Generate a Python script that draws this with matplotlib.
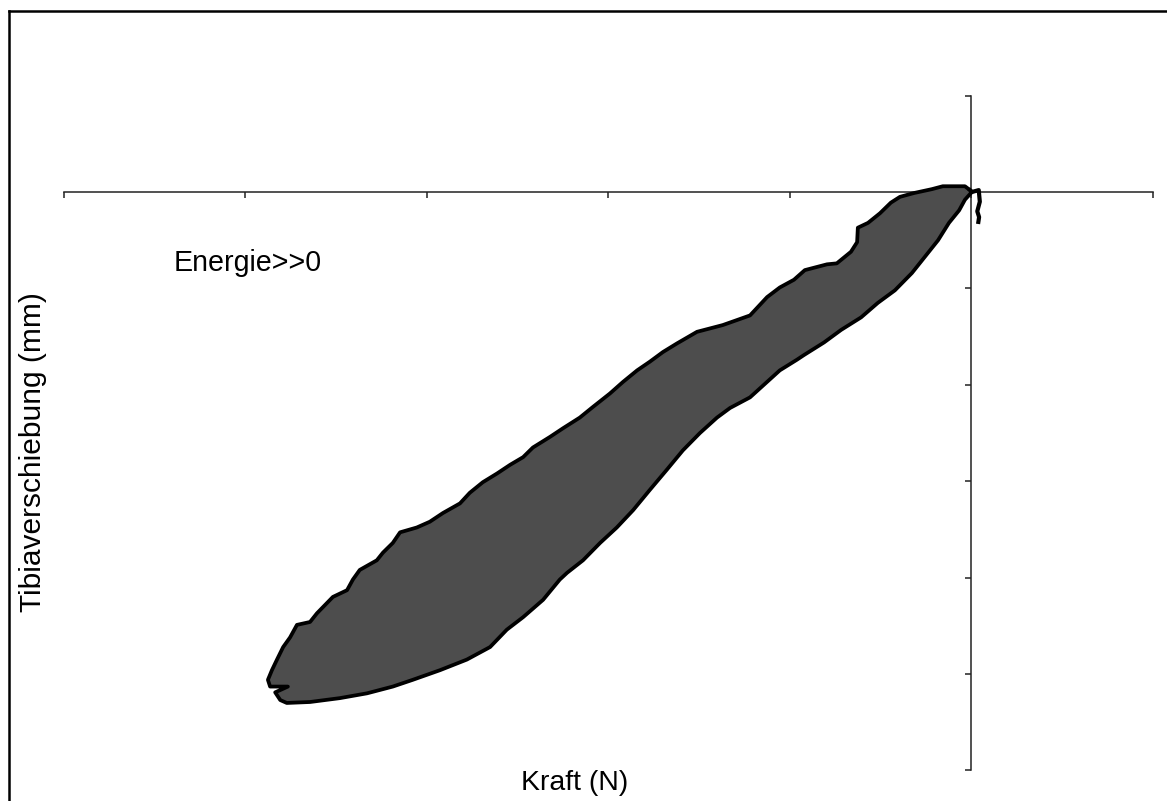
import matplotlib
matplotlib.use("Agg")
import matplotlib.pyplot as plt
from matplotlib.lines import Line2D

# hysteresis loop, Kraft (N) vs Tibiaverschiebung (mm)
# upper branch (right tip -> lower left), then lower branch back to the tip
kraft = [
    -0.4, -1.8, -7.9, -10.9, -15.8, -19.7, -22.2, -25.2, -28.5, -31.3, -31.5,
    -33.2, -37.1, -39.8, -45.9, -48.9, -52.8, -56.3, -61.0, -68.5, -75.6,
    -81.1, -85.0, -88.6, -92.1, -96.0, -99.6, -104.3, -107.9, -112.5, -116.1,
    -120.8, -123.5, -127.1, -130.7, -134.6, -138.2, -140.9, -145.6, -149.2,
    -152.8, -157.4, -159.4, -162.1, -163.8, -168.5, -170.4, -172.0, -175.9,
    -180.3, -182.2, -185.8, -187.7, -189.6, -191.3, -192.7, -193.8, -193.2,
    -188.3, -191.8, -190.4, -188.6,
    -182.2, -174.0, -166.5, -159.4, -153.9, -146.4, -139.0, -132.6, -128.0,
    -123.5, -118.0, -113.4, -111.4, -107.0, -102.3, -97.7, -93.2, -88.6,
    -83.9, -79.5, -74.8, -70.1, -66.5, -61.0, -56.9, -52.8, -48.1, -46.1,
    -40.6, -35.9, -30.4, -25.8, -21.1, -16.4, -12.8, -9.2, -6.2, -3.4, -1.8,
    0.1,
]
weg = [
    0.02, 0.06, 0.06, 0.03, -0.01, -0.05, -0.11, -0.22, -0.32, -0.37, -0.52,
    -0.62, -0.74, -0.75, -0.81, -0.91, -0.99, -1.09, -1.28, -1.38, -1.45,
    -1.57, -1.66, -1.76, -1.85, -1.97, -2.09, -2.23, -2.34, -2.45, -2.54,
    -2.65, -2.75, -2.83, -2.92, -3.01, -3.12, -3.23, -3.33, -3.42,
    -3.48, -3.53, -3.64, -3.74, -3.82, -3.92, -4.02, -4.13, -4.20,
    -4.37, -4.46, -4.49, -4.62, -4.72, -4.85, -4.96, -5.06, -5.13,
    -5.13, -5.19, -5.27, -5.30,
    -5.29, -5.25, -5.20, -5.13, -5.06, -4.96, -4.85, -4.72, -4.54,
    -4.41, -4.23, -4.02, -3.95, -3.82, -3.64, -3.48, -3.30, -3.09,
    -2.88, -2.68, -2.50, -2.34, -2.24, -2.13, -1.99, -1.85, -1.74, -1.69,
    -1.56, -1.43, -1.30, -1.15, -1.02, -0.84, -0.67, -0.50, -0.32, -0.19, -0.08,
    0.0,
]
# small tail at the start of the measurement
tail_kraft = [0.1, 2.0, 2.3, 1.6, 2.1, 1.9]
tail_weg = [0.0, 0.02, -0.1, -0.2, -0.26, -0.31]

x_ticks = [-250, -200, -150, -100, -50, 0, 50]
y_ticks = [1, 0, -1, -2, -3, -4, -5, -6]

plt.rcParams['font.family'] = ['Liberation Sans', 'DejaVu Sans']

fig = plt.figure(figsize=(11.67, 8.01), dpi=100)
ax = fig.add_axes([0, 0, 1, 1])
ax.set_xlim(-267.6, 53.86)
ax.set_ylim(-6.317, 1.992)
ax.patch.set_alpha(0)

ax.fill(kraft, weg, color='#4d4d4d', zorder=2)
ax.plot(kraft + [kraft[0]], weg + [weg[0]], color='black', lw=2.7, zorder=3)
ax.plot(tail_kraft, tail_weg, color='black', lw=3.0, zorder=3)

# axes crossing at the origin
for s in ['top', 'right']:
    ax.spines[s].set_visible(False)
ax.spines['bottom'].set_position(('data', 0))
ax.spines['left'].set_position(('data', 0))
ax.spines['bottom'].set_bounds(-250, 50)
ax.spines['left'].set_bounds(-6, 1)
for s in ['bottom', 'left']:
    ax.spines[s].set_linewidth(1.1)
    ax.spines[s].set_color('#222222')
    ax.spines[s].set_zorder(1)
ax.set_xticks(x_ticks)
ax.set_yticks(y_ticks)
ax.set_xticklabels([])
ax.set_yticklabels([])
ax.tick_params(direction='out', length=4, width=1.1, color='#222222')

fig.text(174 / 1167, 1 - 271 / 801, 'Energie>>0', fontsize=20.6, ha='left', va='baseline')
fig.text(575 / 1167, 1 - 790 / 801, 'Kraft (N)', fontsize=20.4, ha='center', va='baseline')
fig.text(33 / 1167, 1 - 452 / 801, 'Tibiaverschiebung (mm)', fontsize=21.5,
         ha='center', va='center', rotation=90)

# chart border (left and top edges visible)
fig.add_artist(Line2D([9 / 1167, 9 / 1167], [0, 1 - 11 / 801], color='black', lw=1.8,
                      transform=fig.transFigure))
fig.add_artist(Line2D([9 / 1167, 1], [1 - 11 / 801, 1 - 11 / 801], color='black', lw=1.8,
                      transform=fig.transFigure))

fig.savefig('out.png', dpi=100)
